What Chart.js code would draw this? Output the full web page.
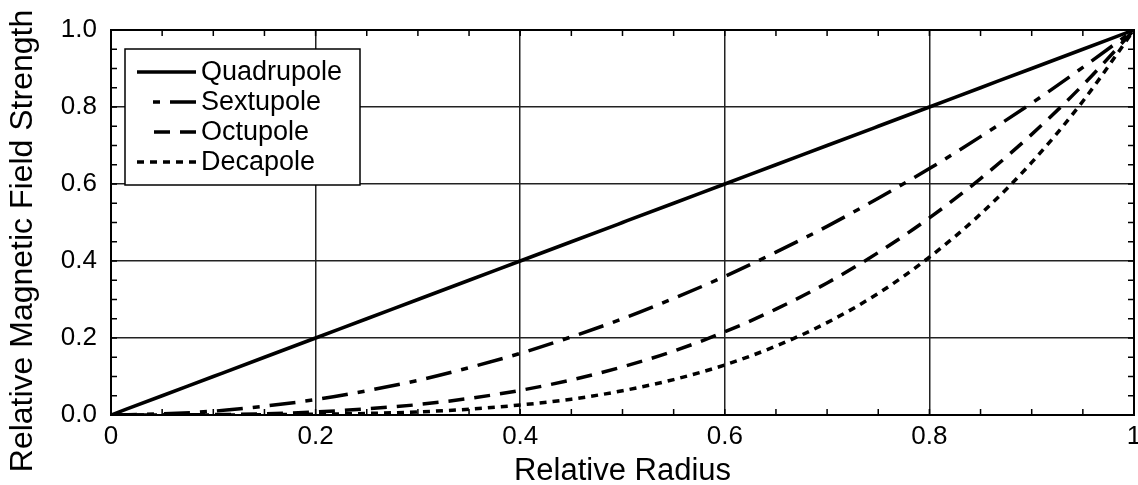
<!DOCTYPE html>
<html>
<head>
<meta charset="utf-8">
<script src="https://cdn.jsdelivr.net/npm/chart.js@4.4.1/dist/chart.umd.min.js"></script>
<style>
  html, body { margin: 0; padding: 0; background: #fff; }
  #wrap { width: 1138px; height: 485px; position: relative; }
</style>
</head>
<body>
<div id="wrap"><canvas id="fieldChart"></canvas></div>
<script>
// relative radius samples
const radius = [0, 0.05, 0.1, 0.15, 0.2, 0.25, 0.3, 0.35, 0.4, 0.45, 0.5,
                0.55, 0.6, 0.65, 0.7, 0.75, 0.8, 0.85, 0.9, 0.95, 1];

// relative field strength for each multipole
const quadrupole = [0, 0.05, 0.1, 0.15, 0.2, 0.25, 0.3, 0.35, 0.4, 0.45, 0.5,
                    0.55, 0.6, 0.65, 0.7, 0.75, 0.8, 0.85, 0.9, 0.95, 1];
const sextupole = [0, 0.003, 0.01, 0.023, 0.04, 0.063, 0.09, 0.123, 0.16, 0.203, 0.25,
                   0.303, 0.36, 0.423, 0.49, 0.563, 0.64, 0.723, 0.81, 0.903, 1];
const octupole = [0, 0, 0.001, 0.003, 0.008, 0.016, 0.027, 0.043, 0.064, 0.091, 0.125,
                  0.166, 0.216, 0.275, 0.343, 0.422, 0.512, 0.614, 0.729, 0.857, 1];
const decapole = [0, 0, 0, 0.001, 0.002, 0.004, 0.008, 0.015, 0.026, 0.041, 0.063,
                  0.092, 0.13, 0.179, 0.24, 0.316, 0.41, 0.522, 0.656, 0.815, 1];

const seriesNames = ['Quadrupole', 'Sextupole', 'Octupole', 'Decapole'];
const xTicks = [0, 0.2, 0.4, 0.6, 0.8, 1];
const yTicks = [0, 0.2, 0.4, 0.6, 0.8, 1.0];
const yTitle = 'Relative Magnetic Field Strength';

const FONT = '"Liberation Sans", Arial, Helvetica, sans-serif';

function toPoints(values) {
    return radius.map((r, i) => ({ x: r, y: values[i] }));
}

function makeSet(label, values, dash, sampleStart) {
    return {
        label: label,
        data: toPoints(values),
        borderColor: '#000',
        borderWidth: 3.5,
        borderDash: dash,
        pointRadius: 0,
        fill: false,
        cubicInterpolationMode: 'monotone',
        sampleStart: sampleStart
    };
}

// frame, inward minor ticks, y title and boxed legend
const framePlugin = {
    id: 'frame',
    afterDraw(chart) {
        const ctx = chart.ctx;
        const a = chart.chartArea;
        const xs = chart.scales.x;
        const ys = chart.scales.y;
        ctx.save();
        ctx.strokeStyle = '#000';
        ctx.lineWidth = 2;
        ctx.strokeRect(a.left, a.top, a.right - a.left, a.bottom - a.top);

        ctx.lineWidth = 1.5;
        ctx.beginPath();
        for (let i = 1; i < 20; i++) {
            const v = i * 0.05;
            const px = xs.getPixelForValue(v);
            const py = ys.getPixelForValue(v);
            ctx.moveTo(px, a.bottom); ctx.lineTo(px, a.bottom - 6);
            ctx.moveTo(px, a.top); ctx.lineTo(px, a.top + 6);
            ctx.moveTo(a.left, py); ctx.lineTo(a.left + 6, py);
            ctx.moveTo(a.right, py); ctx.lineTo(a.right - 6, py);
        }
        ctx.stroke();

        // y axis title, sits a bit lower than the plot centre
        ctx.save();
        ctx.translate(23, 241);
        ctx.rotate(-Math.PI / 2);
        ctx.fillStyle = '#000';
        ctx.font = '32px ' + FONT;
        ctx.textAlign = 'center';
        ctx.textBaseline = 'middle';
        ctx.fillText(yTitle, 0, 0);
        ctx.restore();

        // legend
        const bx = 125, by = 49, bw = 235, bh = 136;
        ctx.fillStyle = '#fff';
        ctx.fillRect(bx, by, bw, bh);
        ctx.lineWidth = 1.5;
        ctx.strokeRect(bx, by, bw, bh);
        ctx.font = '27px ' + FONT;
        ctx.textBaseline = 'middle';
        chart.data.datasets.forEach((ds, i) => {
            const y = 72 + i * 30;
            ctx.save();
            ctx.lineWidth = 3.5;
            ctx.setLineDash(ds.borderDash || []);
            ctx.beginPath();
            // drawn right to left so the pattern meets the label
            ctx.moveTo(196, y);
            ctx.lineTo(ds.sampleStart, y);
            ctx.stroke();
            ctx.restore();
            ctx.fillStyle = '#000';
            ctx.fillText(ds.label, 201, y + 1);
        });
        ctx.restore();
    }
};

const ctx = document.getElementById('fieldChart').getContext('2d');
const fieldChart = new Chart(ctx, {
    type: 'line',
    data: {
        datasets: [
            makeSet(seriesNames[0], quadrupole, [], 137),
            makeSet(seriesNames[1], sextupole, [26, 10, 7, 10], 150),
            makeSet(seriesNames[2], octupole, [16, 10], 150),
            makeSet(seriesNames[3], decapole, [7, 6], 137)
        ]
    },
    options: {
        responsive: true,
        maintainAspectRatio: false,
        animation: false,
        layout: { padding: { top: 30, right: 4, left: 0, bottom: 0 } },
        plugins: {
            legend: { display: false },
            tooltip: { enabled: false }
        },
        scales: {
            x: {
                type: 'linear',
                min: 0,
                max: 1,
                afterBuildTicks: s => { s.ticks = xTicks.map(v => ({ value: v })); },
                ticks: {
                    color: '#000',
                    font: { family: FONT, size: 26 },
                    padding: 6,
                    maxRotation: 0,
                    callback: v => (v === 0 || v === 1) ? String(v) : v.toFixed(1)
                },
                grid: { color: '#222', lineWidth: 1.5, drawTicks: false },
                border: { display: false },
                title: {
                    display: true,
                    text: 'Relative Radius',
                    color: '#000',
                    font: { family: FONT, size: 31, lineHeight: 0.85 },
                    padding: { top: 0, bottom: 0 }
                },
                afterFit: s => { s.height = 70; s.paddingRight = 4; s.paddingLeft = 0; }
            },
            y: {
                type: 'linear',
                min: 0,
                max: 1,
                afterBuildTicks: s => { s.ticks = yTicks.map(v => ({ value: v })); },
                ticks: {
                    color: '#000',
                    font: { family: FONT, size: 26 },
                    padding: 14,
                    callback: v => v.toFixed(1)
                },
                grid: { color: '#222', lineWidth: 1.5, drawTicks: false },
                border: { display: false },
                title: { display: false },
                afterFit: s => { s.width = 111; s.paddingTop = 0; s.paddingBottom = 0; }
            }
        }
    },
    plugins: [framePlugin]
});
</script>
</body>
</html>
